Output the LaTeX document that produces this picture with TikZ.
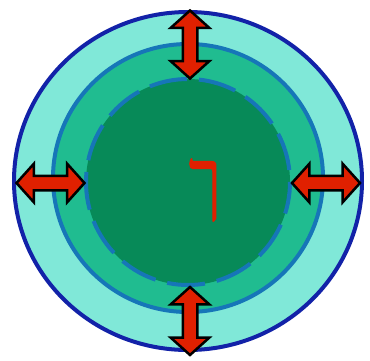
\documentclass[tikz,border=0pt]{standalone}
\usepackage{fontspec}
\usetikzlibrary{shapes.arrows}
\TeXXeTstate=1
\newfontfamily\hebfont[Script=Hebrew,FakeBold=1.4]{Liberation Serif}
\definecolor{cskin}{RGB}{128,232,216}
\definecolor{cmid}{RGB}{32,188,144}
\definecolor{ccore}{RGB}{7,138,88}
\definecolor{crim}{RGB}{18,34,168}
\definecolor{cline}{RGB}{22,118,184}
\definecolor{cpush}{RGB}{224,32,0}
\tikzset{
  % layers of the disc, outside to inside
  skin/.style={fill=cskin,draw=crim,line width=4pt},
  mantle/.style={fill=cmid,draw=cline,line width=4pt},
  core/.style={fill=ccore},
  coreline/.style={draw=cline,line width=4pt,dash pattern=on 38pt off 12pt,dash phase=6pt},
  push/.style={double arrow,fill=cpush,draw=black,line width=2.5pt,
    minimum height=68pt,inner xsep=0pt,inner ysep=6pt,
    double arrow head extend=12pt,double arrow tip angle=96}
}
\begin{document}
\begin{tikzpicture}[x=1pt,y=-1pt]
  \useasboundingbox (0,0) rectangle (370,360);
  \fill[white] (0,0) rectangle (370,360);
  \coordinate (c) at (188,181);
  \path[skin] (c) ellipse [x radius=174, y radius=169];
  \path[mantle] (188,178) ellipse [x radius=135, y radius=134];
  \path[core] (188,182) ellipse [x radius=102, y radius=103];
  \path[coreline] (188,182) ellipse [x radius=102, y radius=103];
  \node[push,rotate=90] (up) at (190,44.5) {};
  \node[push,rotate=90] (down) at (190,321) {};
  \node[push] (left) at (50.5,183) {};
  \node[push] (right) at (326,183) {};
  \node[text=cpush,font=\hebfont\fontsize{80}{80}\selectfont,inner sep=0pt] (glyph) at (205,190) {\scalebox{0.82}[1]{\beginR ך\endR}};
\end{tikzpicture}
\end{document}
